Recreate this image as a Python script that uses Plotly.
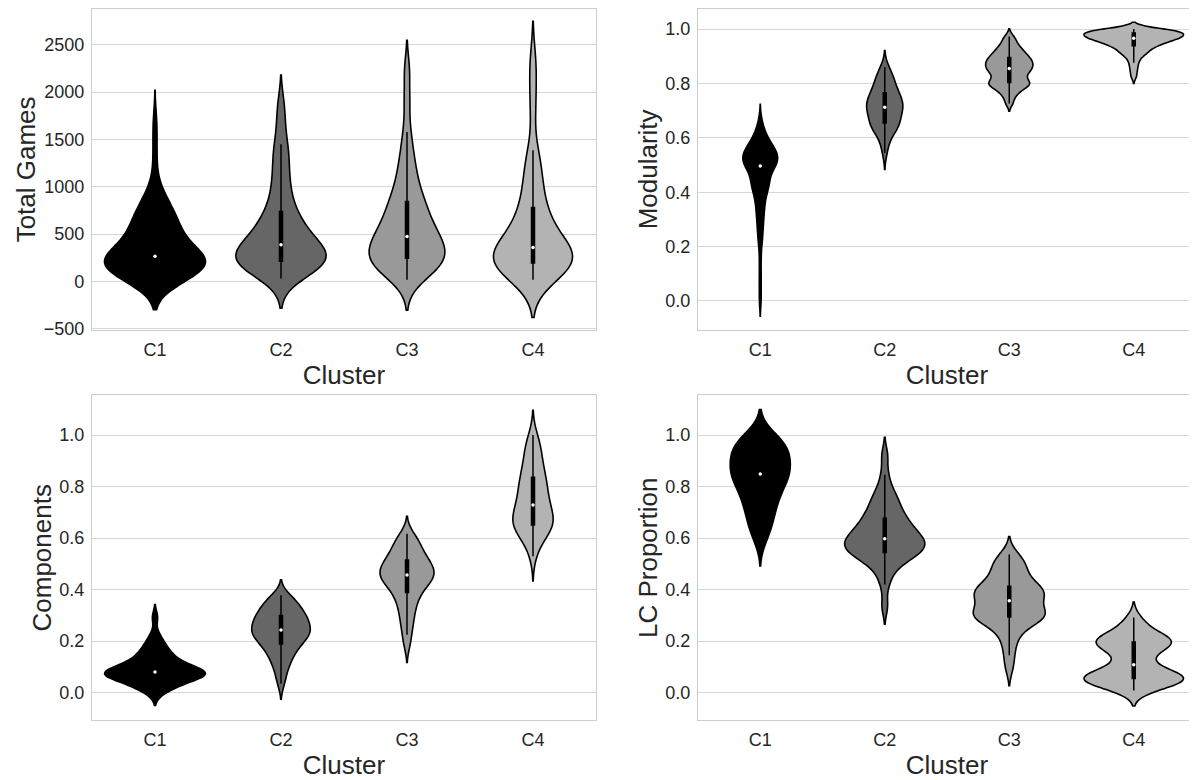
import numpy as np
import plotly.graph_objects as go
from plotly.subplots import make_subplots

# ---------------- data ----------------
CLUSTERS = ["C1", "C2", "C3", "C4"]
FILL_COLORS = ["#000000", "#666666", "#999999", "#b3b3b3"]

TOTAL_GAMES_C1 = [0, 0, 3, 6, 9, 12, 16, 20, 25, 30, 45, 62, 80, 95,
                  103, 109, 114, 120, 125, 131, 137, 142, 148, 154, 159, 165, 170, 176, 182, 187,
                  193, 199, 204, 207, 211, 214, 218, 221, 225, 228, 232, 235, 239, 242, 246, 249,
                  253, 256, 259, 262,
                  270, 281, 292, 303, 314, 325, 337, 349, 361, 373, 385, 397,
                  410, 423, 436, 449, 462, 475, 488, 501, 514, 527, 540, 553, 566, 580, 594, 608,
                  622, 637, 652, 667, 683, 699, 716, 734, 752, 771, 791, 812, 835, 860, 888, 920,
                  960, 1030, 1200, 1380, 1560, 1720]
TOTAL_GAMES_C2 = [31, 70, 105, 130, 150, 165, 180, 192, 203, 210, 216, 232, 250, 268, 287, 305,
                  325, 345, 365, 380, 394, 420, 450, 480, 515, 550, 590, 630, 675, 705, 770, 850,
                  940, 1030, 1130, 1250, 1360, 1449, 1650, 1867]
TOTAL_GAMES_C3 = [17, 60, 95, 125, 150, 172, 192, 210, 226, 238, 250, 275, 300, 325, 350, 375,
                  400, 425, 448, 466, 482, 515, 550, 585, 620, 660, 700, 745, 790, 825, 865, 930,
                  1000, 1080, 1170, 1270, 1400, 1578, 1900, 2227]
TOTAL_GAMES_C4 = [17, 50, 80, 105, 125, 143, 158, 170, 181, 190, 200, 215, 232, 250, 268, 285,
                  302, 320, 337, 352, 366, 395, 430, 470, 510, 555, 600, 650, 700, 745, 815, 900,
                  990, 1080, 1170, 1280, 1387, 1800, 2100, 2351]

MODULARITY_C1 = [0.0, 0.05, 0.1, 0.155,
                 0.205, 0.227, 0.247, 0.265, 0.281, 0.296, 0.31, 0.323, 0.335, 0.346, 0.357,
                 0.367, 0.377, 0.386, 0.395, 0.403, 0.411, 0.413, 0.418, 0.425, 0.431, 0.435,
                 0.437, 0.443, 0.447, 0.455, 0.462, 0.4675, 0.4725, 0.477, 0.481, 0.485, 0.4885,
                 0.4915, 0.4945, 0.498, 0.5005, 0.5035, 0.506, 0.509, 0.5115, 0.514, 0.5165,
                 0.519, 0.5215, 0.524, 0.5265, 0.529, 0.531, 0.5335, 0.536, 0.5385, 0.541,
                 0.5435, 0.546, 0.549, 0.5515, 0.5545, 0.5575, 0.561, 0.5645, 0.568, 0.5715,
                 0.576, 0.5805, 0.585, 0.59, 0.5955, 0.6025, 0.61, 0.6185, 0.63, 0.6435, 0.667]
MODULARITY_C2 = [0.544, 0.575, 0.598, 0.613, 0.624, 0.632, 0.639, 0.644, 0.648, 0.651, 0.658,
                 0.665, 0.672, 0.679, 0.686, 0.692, 0.698, 0.703, 0.708, 0.711, 0.715, 0.72,
                 0.725, 0.73, 0.735, 0.741, 0.746, 0.751, 0.756, 0.762, 0.77, 0.778, 0.786,
                 0.794, 0.803, 0.812, 0.822, 0.833, 0.846, 0.861]
MODULARITY_C3 = [0.726, 0.748, 0.762, 0.772, 0.780, 0.786, 0.791, 0.795, 0.799, 0.802, 0.806,
                 0.811, 0.817, 0.823, 0.829, 0.835, 0.840, 0.845, 0.849, 0.853, 0.857, 0.861,
                 0.865, 0.869, 0.873, 0.877, 0.881, 0.885, 0.889, 0.893, 0.898, 0.903, 0.908,
                 0.914, 0.920, 0.927, 0.935, 0.945, 0.958, 0.973]
MODULARITY_C4 = [0.825, 0.845, 0.862, 0.876, 0.888, 0.898, 0.905, 0.91, 0.914, 0.918, 0.922,
                 0.926, 0.930, 0.934, 0.938, 0.940, 0.942, 0.944, 0.946, 0.948, 0.950, 0.952,
                 0.954, 0.956, 0.958, 0.961, 0.9625, 0.964, 0.965, 0.966, 0.967, 0.968, 0.969,
                 0.970, 0.971, 0.972, 0.973, 0.974, 0.975, 0.977, 0.979, 0.981, 0.983, 0.984,
                 0.985, 0.986, 0.987, 0.988, 0.989, 0.990, 0.991, 0.992, 0.993, 0.994, 0.995,
                 0.996, 0.997, 0.998, 0.999, 1.0]

COMPONENTS_C1 = [0.0, 0.01, 0.019, 0.027, 0.034, 0.04, 0.045, 0.049, 0.053, 0.057, 0.06, 0.063,
                 0.066, 0.069, 0.071, 0.073, 0.075, 0.077, 0.078, 0.079, 0.081, 0.084, 0.087,
                 0.09, 0.094, 0.098, 0.103, 0.108, 0.114, 0.12, 0.127, 0.134, 0.142, 0.151,
                 0.161, 0.172, 0.185, 0.2, 0.225, 0.292]
COMPONENTS_C2 = [0.034, 0.07, 0.095, 0.115, 0.13, 0.143, 0.155, 0.166, 0.176, 0.185, 0.193,
                 0.199, 0.205, 0.211, 0.217, 0.223, 0.229, 0.234, 0.238, 0.241, 0.245, 0.251,
                 0.257, 0.263, 0.269, 0.275, 0.281, 0.287, 0.292, 0.296, 0.302, 0.309, 0.316,
                 0.324, 0.332, 0.340, 0.349, 0.358, 0.368, 0.378]
COMPONENTS_C3 = [0.185, 0.225, 0.255, 0.28, 0.302, 0.322, 0.34, 0.356, 0.37, 0.383, 0.395,
                 0.404, 0.413, 0.421, 0.428, 0.435, 0.441, 0.446, 0.451, 0.455, 0.459, 0.464,
                 0.47, 0.476, 0.482, 0.488, 0.494, 0.5, 0.506, 0.511, 0.518, 0.527, 0.536,
                 0.546, 0.556, 0.566, 0.578, 0.59, 0.603, 0.617]
COMPONENTS_C4 = [0.53, 0.567, 0.592, 0.608, 0.619, 0.628, 0.635, 0.641, 0.646, 0.649, 0.653,
                 0.661, 0.669, 0.677, 0.685, 0.693, 0.701, 0.709, 0.717, 0.724, 0.734, 0.745,
                 0.756, 0.767, 0.778, 0.789, 0.8, 0.811, 0.821, 0.83, 0.842, 0.856, 0.871,
                 0.887, 0.904, 0.921, 0.939, 0.958, 0.978, 1.0]

LC_PROPORTION_C1 = [0.592, 0.615, 0.637, 0.657, 0.675, 0.692, 0.708, 0.723, 0.737, 0.75, 0.763,
                    0.775, 0.787, 0.798, 0.808, 0.818, 0.827, 0.835, 0.842, 0.846, 0.852, 0.86,
                    0.868, 0.876, 0.884, 0.892, 0.9, 0.908, 0.916, 0.924, 0.932, 0.94, 0.948,
                    0.956, 0.964, 0.972, 0.979, 0.986, 0.993, 0.999]
LC_PROPORTION_C2 = [0.336, 0.42, 0.46, 0.485, 0.503, 0.516, 0.526, 0.533, 0.538, 0.542, 0.547,
                    0.553, 0.559, 0.565, 0.571, 0.577, 0.582, 0.587, 0.591, 0.594, 0.6, 0.607,
                    0.614, 0.621, 0.629, 0.637, 0.645, 0.654, 0.663, 0.672, 0.683, 0.695, 0.708,
                    0.722, 0.737, 0.754, 0.773, 0.795, 0.846, 0.921]
LC_PROPORTION_C3 = [0.097, 0.145, 0.185, 0.215, 0.238, 0.256, 0.27, 0.28, 0.287, 0.292, 0.295,
                    0.298, 0.301, 0.304, 0.308, 0.313, 0.32, 0.33, 0.343, 0.353, 0.361, 0.369,
                    0.376, 0.382, 0.387, 0.391, 0.395, 0.399, 0.403, 0.408, 0.418, 0.43, 0.443,
                    0.456, 0.469, 0.482, 0.495, 0.509, 0.522, 0.536]
LC_PROPORTION_C4 = [0.008, 0.016, 0.023, 0.029, 0.034, 0.038, 0.042, 0.046, 0.05, 0.053, 0.056,
                    0.059, 0.062, 0.065, 0.068, 0.071, 0.075, 0.08, 0.088, 0.1, 0.116, 0.13,
                    0.145, 0.158, 0.168, 0.176, 0.182, 0.187, 0.191, 0.195, 0.199, 0.203, 0.207,
                    0.212, 0.218, 0.226, 0.237, 0.251, 0.27, 0.292]

# kernel bandwidths per cluster (smoothing of the density estimate)
BW_TOTAL_GAMES = [150, 157, 160, 199]
BW_MODULARITY = [0.028, 0.03, 0.014, 0.0125]
BW_COMPONENTS = [0.025, 0.03, 0.034, 0.048]
BW_LC_PROPORTION = [0.05, 0.035, 0.035, 0.03]

TICKS_TOTAL_GAMES = [-500, 0, 500, 1000, 1500, 2000, 2500]
TICKS_UNIT = [0.0, 0.2, 0.4, 0.6, 0.8, 1.0]

# ---------------- figure ----------------
# the page body has an 8px margin, so the figure is drawn 8px smaller and
# reference pixel positions are shifted by that offset
OFF = 8
W, H = 1197 - OFF, 780 - OFF
FONT = "Liberation Sans, Arial, sans-serif"
TEXT = "#262626"
GRID = "#d7d7d7"
FRAME = "#cccccc"

panels = [
    dict(data=[TOTAL_GAMES_C1, TOTAL_GAMES_C2, TOTAL_GAMES_C3, TOTAL_GAMES_C4],
         bw=BW_TOTAL_GAMES, title="Total Games", box=(92, 596, 7.5, 333),
         yrange=[-511, 2878], ticks=TICKS_TOTAL_GAMES, fmt="d"),
    dict(data=[MODULARITY_C1, MODULARITY_C2, MODULARITY_C3, MODULARITY_C4],
         bw=BW_MODULARITY, title="Modularity", box=(698, 1196, 7.5, 333),
         yrange=[-0.106, 1.074], ticks=TICKS_UNIT, fmt=".1f"),
    dict(data=[COMPONENTS_C1, COMPONENTS_C2, COMPONENTS_C3, COMPONENTS_C4],
         bw=BW_COMPONENTS, title="Components", box=(92, 596, 399.5, 728.5),
         yrange=[-0.107, 1.154], ticks=TICKS_UNIT, fmt=".1f"),
    dict(data=[LC_PROPORTION_C1, LC_PROPORTION_C2, LC_PROPORTION_C3, LC_PROPORTION_C4],
         bw=BW_LC_PROPORTION, title="LC Proportion", box=(698, 1196, 399.5, 728.5),
         yrange=[-0.107, 1.154], ticks=TICKS_UNIT, fmt=".1f"),
]


def clamp(v):
    return min(1.0, max(0.0, v))


fig = make_subplots(rows=2, cols=2)
layout_updates = {}
for p, panel in enumerate(panels):
    row, col = p // 2 + 1, p % 2 + 1
    for label, vals, color, bw in zip(CLUSTERS, panel["data"], FILL_COLORS, panel["bw"]):
        vals = np.asarray(vals, dtype=float)
        fig.add_trace(go.Violin(
            x=[label] * len(vals), y=vals,
            fillcolor=color, line=dict(color="black", width=1.6), opacity=1,
            scalegroup=f"panel{p}", scalemode="width", spanmode="soft",
            bandwidth=bw, points="outliers", marker=dict(opacity=0, size=1),
            box=dict(visible=True, width=0.03, fillcolor="black",
                     line=dict(color="black", width=1.5)),
            meanline=dict(visible=False), showlegend=False, hoverinfo="skip",
        ), row=row, col=col)
        fig.add_trace(go.Scatter(
            x=[label], y=[float(np.median(vals))], mode="markers",
            marker=dict(color="white", size=3.5, line=dict(width=0)),
            showlegend=False, hoverinfo="skip",
        ), row=row, col=col)

    l, r, t, b = panel["box"]
    idx = "" if p == 0 else str(p + 1)
    layout_updates[f"xaxis{idx}"] = dict(
        domain=[clamp((l - OFF) / W), clamp((r - OFF) / W)], type="category",
        categoryorder="array", categoryarray=CLUSTERS, range=[-0.5, 3.5],
        showgrid=False, zeroline=False,
        showline=True, mirror=True, linecolor=FRAME, linewidth=1.25,
        ticks="outside", ticklen=3, tickcolor="rgba(0,0,0,0)",
        tickfont=dict(family=FONT, size=18, color=TEXT),
        title=dict(text="Cluster", font=dict(family=FONT, size=26, color=TEXT), standoff=7),
    )
    layout_updates[f"yaxis{idx}"] = dict(
        domain=[clamp(1 - (b - OFF) / H), clamp(1 - (t - OFF) / H)],
        range=panel["yrange"], tickvals=panel["ticks"], tickformat=panel["fmt"],
        showgrid=True, gridcolor=GRID, gridwidth=1, zeroline=False,
        showline=True, mirror=True, linecolor=FRAME, linewidth=1.25,
        ticks="outside", ticklen=3, tickcolor="rgba(0,0,0,0)",
        tickfont=dict(family=FONT, size=18, color=TEXT),
        title=dict(text=panel["title"], font=dict(family=FONT, size=26, color=TEXT), standoff=0),
    )

fig.update_layout(**layout_updates)
fig.update_layout(
    width=W, height=H, margin=dict(l=0, r=0, t=0, b=0),
    paper_bgcolor="white", plot_bgcolor="white",
    violinmode="overlay", violingap=0.2, violingroupgap=0,
    font=dict(family=FONT, color=TEXT), showlegend=False,
)
fig.write_html("out.html")
